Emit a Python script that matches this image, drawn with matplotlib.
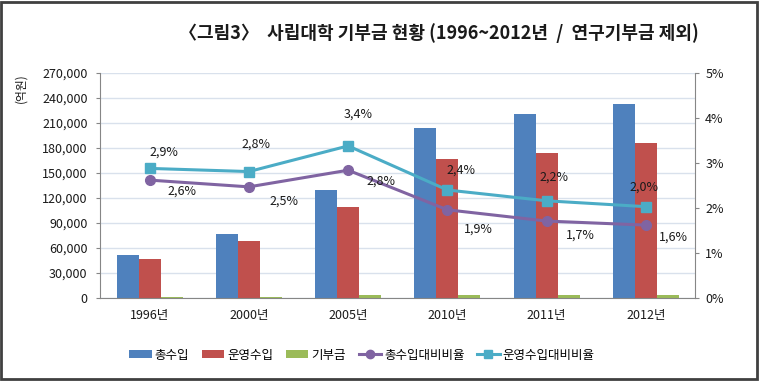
import matplotlib
matplotlib.use("Agg")
import matplotlib.pyplot as plt
import numpy as np
from matplotlib.lines import Line2D
from matplotlib.patches import Patch, Rectangle
from matplotlib.ticker import FuncFormatter

plt.rcParams["font.family"] = ["Noto Sans CJK KR", "DejaVu Sans"]

years = ["1996년", "2000년", "2005년", "2010년", "2011년", "2012년"]
total_income = [51600, 76800, 129600, 203600, 220800, 232800]
operating_income = [46800, 68400, 109200, 166800, 174000, 186000]
donations = [1500, 1500, 3600, 3600, 3600, 3600]
total_ratio = [2.62, 2.47, 2.84, 1.96, 1.71, 1.62]
operating_ratio = [2.88, 2.81, 3.38, 2.40, 2.16, 2.03]
total_ratio_labels = ["2,6%", "2,5%", "2,8%", "1,9%", "1,7%", "1,6%"]
operating_ratio_labels = ["2,9%", "2,8%", "3,4%", "2,4%", "2,2%", "2,0%"]

BLUE = "#4F81BD"
RED = "#C0504D"
GREEN = "#9BBB59"
PURPLE = "#8064A2"
CYAN = "#4BACC6"
AXIS_GRAY = "#868686"
GRID = "#D9E1EC"
TEXT = "#1a1a1a"

fig = plt.figure(figsize=(7.59, 3.81), dpi=100)
ax = fig.add_axes([0.1318, 0.2178, 0.9163 - 0.1318, 0.8084 - 0.2178])

x = np.arange(len(years))
w = 0.222
ax.bar(x - w, total_income, w, color=BLUE, zorder=2)
ax.bar(x, operating_income, w, color=RED, zorder=2)
ax.bar(x + w, donations, w, color=GREEN, zorder=2)

ax.set_xlim(-0.5, len(years) - 0.5)
ax.set_ylim(0, 270000)
ax.set_yticks(np.arange(0, 270001, 30000))
ax.yaxis.set_major_formatter(FuncFormatter(lambda v, _: f"{int(v):,}"))
ax.set_xticks(x)
ax.set_xticklabels(years)
ax.grid(axis="y", color=GRID, linewidth=1.0, zorder=0)
ax.set_axisbelow(True)
for side in ["top", "right"]:
    ax.spines[side].set_visible(False)
for side in ["left", "bottom"]:
    ax.spines[side].set_color(AXIS_GRAY)
ax.tick_params(axis="y", length=3, color=AXIS_GRAY, labelsize=9, labelcolor=TEXT, pad=6)
ax.tick_params(axis="x", length=0, labelsize=9, labelcolor=TEXT, pad=8)

ax2 = ax.twinx()
ax2.set_ylim(0, 5)
ax2.set_yticks(range(6))
ax2.yaxis.set_major_formatter(FuncFormatter(lambda v, _: f"{int(v)}%"))
for side in ["top", "left", "bottom"]:
    ax2.spines[side].set_visible(False)
ax2.spines["right"].set_color(AXIS_GRAY)
ax2.tick_params(axis="y", length=3, color=AXIS_GRAY, labelsize=9, labelcolor=TEXT, pad=4)

ax2.plot(x, total_ratio, color=PURPLE, linewidth=2.2, marker="o", markersize=7, zorder=3)
ax2.plot(x, operating_ratio, color=CYAN, linewidth=2.2, marker="s", markersize=7, zorder=3)

# label offsets in points, roughly as placed in the original
cyan_off = [(10, 12), (5, 20), (7, 23), (10, 14), (5, 17), (-1, 14)]
purple_off = [(23, -8), (25, -10), (24, -8), (22, -14), (24, -10), (20, -9)]
for i in range(len(years)):
    ax2.annotate(operating_ratio_labels[i], (x[i], operating_ratio[i]),
                 xytext=cyan_off[i], textcoords="offset points",
                 ha="center", va="center", fontsize=9, color=TEXT, zorder=4)
    ax2.annotate(total_ratio_labels[i], (x[i], total_ratio[i]),
                 xytext=purple_off[i], textcoords="offset points",
                 ha="center", va="center", fontsize=9, color=TEXT, zorder=4)

fig.text(0.027, 0.77, "(억원)", rotation=90, ha="center", va="center",
         fontsize=8.5, color=TEXT)
fig.text(0.578, 0.913, "〈그림3〉  사립대학 기부금 현황 (1996~2012년  /  연구기부금 제외)",
         ha="center", va="center", fontsize=13, fontweight="bold", color=TEXT)

handles = [
    Patch(facecolor=BLUE, label="총수입"),
    Patch(facecolor=RED, label="운영수입"),
    Patch(facecolor=GREEN, label="기부금"),
    Line2D([], [], color=PURPLE, linewidth=2.2, marker="o", markersize=6, label="총수입대비비율"),
    Line2D([], [], color=CYAN, linewidth=2.2, marker="s", markersize=6, label="운영수입대비비율"),
]
fig.legend(handles=handles, loc="center", bbox_to_anchor=(0.477, 0.068), ncol=5,
           frameon=False, fontsize=9, handlelength=1.8, handleheight=0.6,
           handletextpad=0.25, columnspacing=1.0)

fig.add_artist(Rectangle((0.001, 0.004), 0.996, 0.992, transform=fig.transFigure,
                         fill=False, edgecolor="#404040", linewidth=2.0))

fig.savefig("out.png", dpi=100)
